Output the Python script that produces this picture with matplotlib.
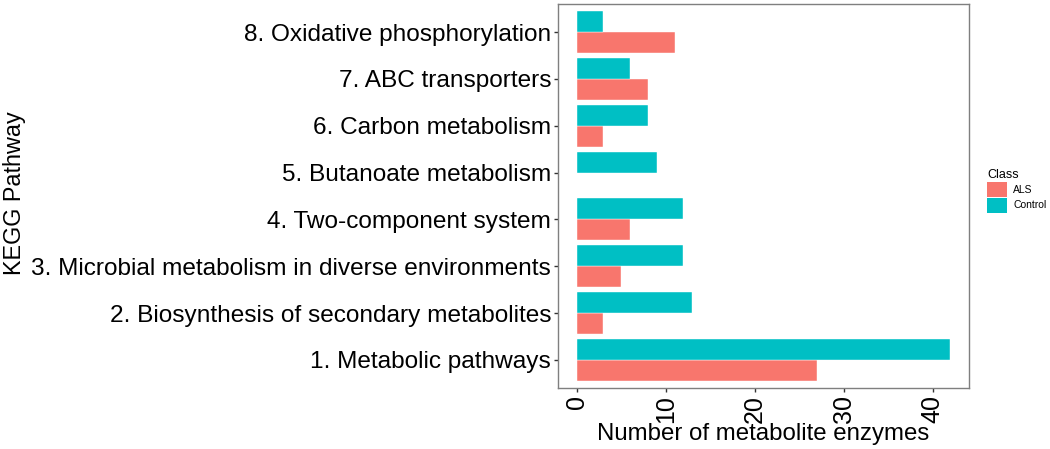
import numpy as np
import matplotlib
matplotlib.use("Agg")
from matplotlib import pyplot as plt
from matplotlib.patches import Patch

plt.rcParams['font.family'] = ['Liberation Sans', 'DejaVu Sans']

# Data
#------------------------------------------------------------------------------
pathways = ["1. Metabolic pathways",
            "2. Biosynthesis of secondary metabolites",
            "3. Microbial metabolism in diverse environments",
            "4. Two-component system",
            "5. Butanoate metabolism",
            "6. Carbon metabolism",
            "7. ABC transporters",
            "8. Oxidative phosphorylation"]
als = [27, 3, 5, 6, 0, 3, 8, 11]
control = [42, 13, 12, 12, 9, 8, 6, 3]
classes = ["ALS", "Control"]
colors = ["#F8766D", "#00BFC4"]
#------------------------------------------------------------------------------

fig = plt.figure(figsize=(10.5, 4.49), dpi=100)
ax = fig.add_axes([0.5314, 0.1359, 0.3915, 0.8552])

y = np.arange(1, len(pathways) + 1)
h = 0.45
ax.barh(y - h / 2, als, height=h, color=colors[0], edgecolor='white',
        linewidth=0.3)
ax.barh(y + h / 2, control, height=h, color=colors[1], edgecolor='white',
        linewidth=0.3)

xmax = max(max(als), max(control))
ax.set_xlim(-0.05 * xmax, 1.05 * xmax)
ax.set_ylim(0.4, len(pathways) + 0.6)

ax.set_yticks(y)
ax.set_yticklabels(pathways, fontsize=17.6, color='black')
ax.set_xticks([0, 10, 20, 30, 40])
ax.set_xticklabels(['0', '10', '20', '30', '40'], rotation=90,
                   fontsize=18, color='black', va='top')
ax.tick_params(axis='both', length=3, width=1, color='#333333', pad=2)

for s in ax.spines.values():
    s.set_color('#7f7f7f')
    s.set_linewidth(1)

ax.set_xlabel("Number of metabolite enzymes", fontsize=17.3, labelpad=0)
fig.text(0.014, 0.57, "KEGG Pathway", rotation=90, fontsize=16.8,
         ha='center', va='center')

handles = [Patch(facecolor=c, edgecolor='none') for c in colors]
leg = fig.legend(handles, classes, title="Class", loc='upper left',
                 bbox_to_anchor=(0.936, 0.632), frameon=False, fontsize=7.5,
                 title_fontsize=9, handlelength=1.9, handleheight=1.85,
                 handletextpad=0.6, labelspacing=0.05, borderaxespad=0)
leg._legend_box.align = "left"

fig.savefig("out.png", dpi=100)
